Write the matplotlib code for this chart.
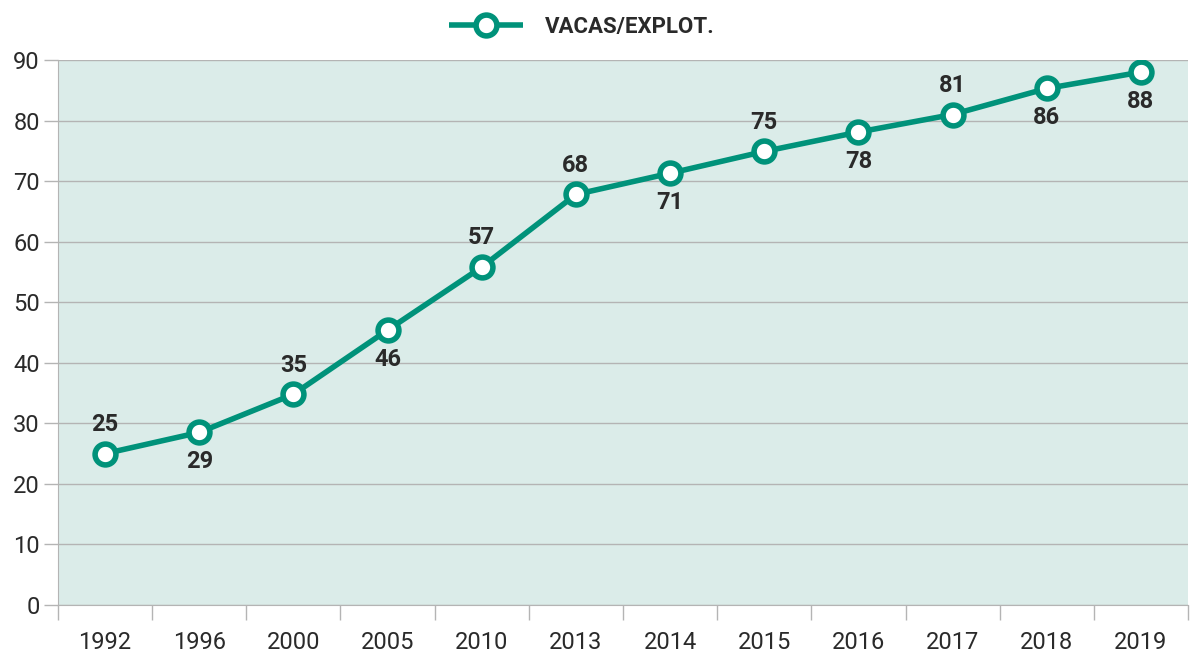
import matplotlib
matplotlib.use("Agg")
import matplotlib.pyplot as plt
import numpy as np

years = ["1992", "1996", "2000", "2005", "2010", "2013", "2014", "2015", "2016", "2017", "2018", "2019"]
values = [25, 28.5, 34.8, 45.4, 55.8, 67.8, 71.3, 74.9, 78.1, 81.0, 85.3, 88.0]
labels = ["25", "29", "35", "46", "57", "68", "71", "75", "78", "81", "86", "88"]
label_pos = ["above", "below", "above", "below", "above", "above", "below", "above", "below", "above", "below", "below"]
series_name = "VACAS/EXPLOT."

teal = "#00927a"
bg = "#dbece9"
grid = "#b4b4b4"
txt = "#2a2a2a"

fig = plt.figure(figsize=(11.9, 6.54), dpi=100)
ax = fig.add_axes([58/1190, 1-605/654, (1188-58)/1190, 545/654])
ax.set_facecolor(bg)

x = np.arange(len(years))
ax.plot(x, values, color=teal, lw=4, marker="o", ms=15, mfc="white", mec=teal, mew=4,
        label=series_name, zorder=3, solid_capstyle="butt")

for xi, v, lab, pos in zip(x, values, labels, label_pos):
    dy = 21 if pos == "above" else -21
    ax.annotate(lab, (xi, v), xytext=(0, dy), textcoords="offset points",
                ha="center", va="center",
                fontsize=17, fontweight="bold", color=txt,
                family=["Roboto", "DejaVu Sans"], zorder=4)

ax.set_xlim(-0.5, len(years) - 0.5)
ax.set_ylim(0, 90)
ax.set_yticks(range(0, 91, 10))
ax.yaxis.grid(True, color=grid, lw=1)
ax.set_axisbelow(True)

ax.set_xticks(np.arange(-0.5, len(years)), minor=False)
ax.set_xticklabels([])
ax.set_xticks(x, minor=True)
ax.set_xticklabels(years, minor=True)
ax.tick_params(axis="x", which="major", length=11, color=grid, width=1)
ax.tick_params(axis="x", which="minor", length=0, pad=19, labelsize=17, labelcolor=txt)
ax.tick_params(axis="y", length=10, color=grid, width=1, labelsize=17, labelcolor=txt, pad=3)
for lab in ax.get_xticklabels(minor=True) + ax.get_yticklabels():
    lab.set_family(["Roboto", "DejaVu Sans"])

for s in ["top", "right"]:
    ax.spines[s].set_visible(False)
ax.spines["left"].set_color(grid)
ax.spines["bottom"].set_color(grid)

leg = ax.legend(loc="center", bbox_to_anchor=(0.489, (654-27)/654), bbox_transform=fig.transFigure,
                frameon=False, handlelength=3.3, handletextpad=1.0,
                prop={"family": ["Roboto", "DejaVu Sans"], "weight": "bold", "size": 16})
for t in leg.get_texts():
    t.set_color(txt)

fig.savefig("out.png", dpi=100)
